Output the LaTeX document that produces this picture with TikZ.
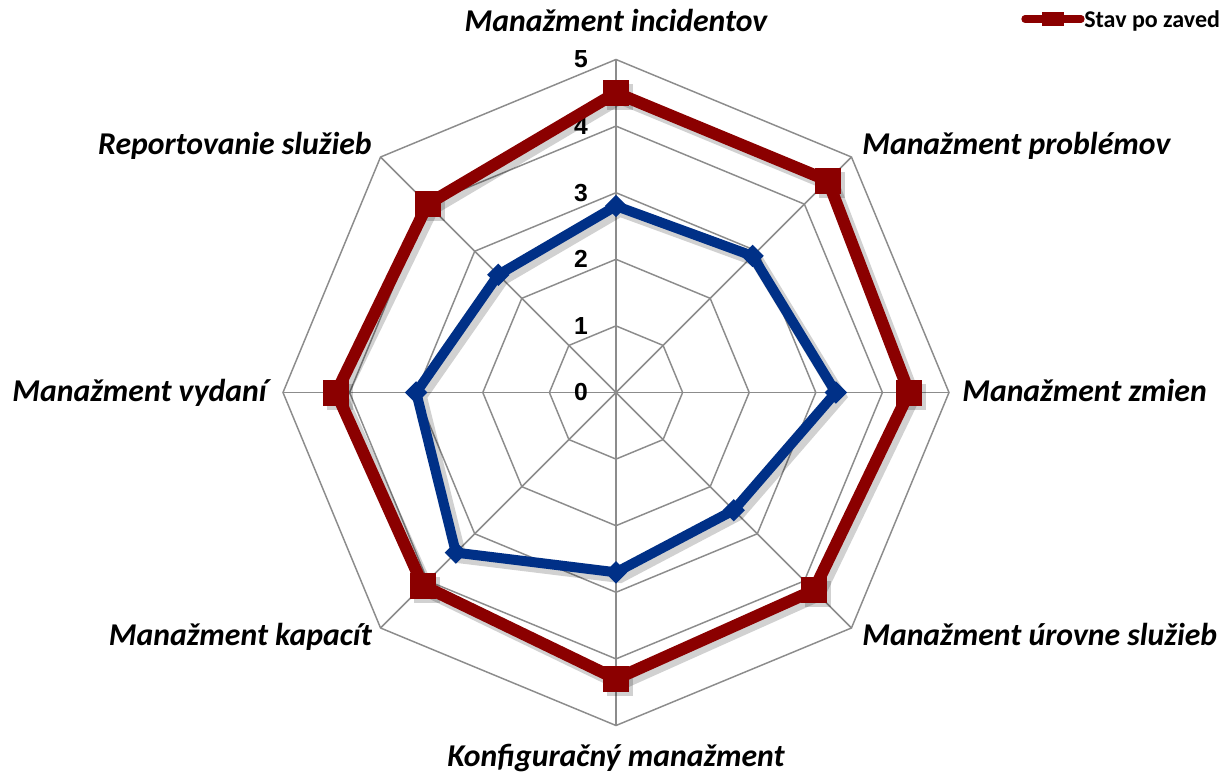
\documentclass[tikz,border=0pt]{standalone}
\usepackage{fontspec}
\setmainfont{Carlito}
\newfontfamily\numfont{Liberation Sans}
\usetikzlibrary{shapes.geometric,calc}
\definecolor{serred}{RGB}{139,0,0}
\definecolor{serblue}{RGB}{0,48,135}
\definecolor{gridgray}{RGB}{140,140,140}
\begin{document}
\begin{tikzpicture}[x=0.75pt,y=-0.75pt,
  gridline/.style={draw=gridgray,line width=1.1pt},
  redline/.style={draw=serred,line width=9pt,line join=miter},
  blueline/.style={draw=serblue,line width=7.5pt,line join=miter},
  shadowline/.style={draw=black,opacity=0.18,line width=10pt,line join=miter},
  redmark/.style={rectangle,fill=serred,minimum width=19.5pt,minimum height=19.5pt,inner sep=0pt},
  bluemark/.style={diamond,fill=serblue,minimum width=17pt,minimum height=17pt,inner sep=0pt},
  axlabel/.style={font=\fontsize{23.8}{26}\selectfont\bfseries\itshape,inner sep=0pt},
  numlabel/.style={font=\numfont\fontsize{18.5}{20}\selectfont\bfseries,inner sep=0pt,anchor=east}]
\useasboundingbox (0,0) rectangle (1222,774);
\fill[white] (0,0) rectangle (1222,774);
\coordinate (O) at (616,392.5);
% grid
\begin{scope}[shift={(616,392.5)}]
\foreach \r in {1,...,5}{
  \draw[gridline] (-90:\r*66.6) -- (-45:\r*66.6) -- (0:\r*66.6) -- (45:\r*66.6) -- (90:\r*66.6) -- (135:\r*66.6) -- (180:\r*66.6) -- (225:\r*66.6) -- cycle;
}
\foreach \a in {-90,-45,0,45,90,135,180,225}{
  \draw[gridline] (0,0) -- (\a:5*66.6);
}
% data coordinates
\foreach \v [count=\i from 0] in {4.5,4.5,4.4,4.2,4.3,4.1,4.2,4.0}{
  \coordinate (r\i) at (-90+45*\i:\v*66.6);
}
\foreach \v [count=\i from 0] in {2.8,2.9,3.3,2.5,2.7,3.4,3.0,2.5}{
  \coordinate (b\i) at (-90+45*\i:\v*66.6);
}
\end{scope}
% numbers
\foreach \n in {0,...,5}{
  \node[numlabel] (n\n) at (588,392.5-\n*66.6) {\n};
}
% shadows
\begin{scope}[transform canvas={xshift=3pt,yshift=-3pt}]
\draw[shadowline] (b0) -- (b1) -- (b2) -- (b3) -- (b4) -- (b5) -- (b6) -- (b7) -- cycle;
\draw[shadowline,line width=11pt] (r0) -- (r1) -- (r2) -- (r3) -- (r4) -- (r5) -- (r6) -- (r7) -- cycle;
\foreach \i in {0,...,7}{
  \fill[black,opacity=0.18] ($(r\i)+(-13,-13)$) rectangle ($(r\i)+(13,13)$);
}
\end{scope}
% series lines
\draw[blueline] (b0) -- (b1) -- (b2) -- (b3) -- (b4) -- (b5) -- (b6) -- (b7) -- cycle;
\draw[redline] (r0) -- (r1) -- (r2) -- (r3) -- (r4) -- (r5) -- (r6) -- (r7) -- cycle;
\foreach \i in {0,...,7}{
  \node[bluemark] (bm\i) at (b\i) {};
  \node[redmark] (rm\i) at (r\i) {};
}
% axis labels
\node[axlabel,anchor=base] (l0) at (616,31.7) {Manažment incidentov};
\node[axlabel,anchor=base west] (l1) at (862,155) {Manažment problémov};
\node[axlabel,anchor=base west] (l2) at (962,401) {Manažment zmien};
\node[axlabel,anchor=base west] (l3) at (862,645) {Manažment úrovne služieb};
\node[axlabel,anchor=base] (l4) at (616,766) {Konfiguračný manažment};
\node[axlabel,anchor=base east] (l5) at (372,645) {Manažment kapacít};
\node[axlabel,anchor=base east] (l6) at (267,401) {Manažment vydaní};
\node[axlabel,anchor=base east] (l7) at (372,155) {Reportovanie služieb};
% legend
\coordinate (lg1) at (1025,19);
\coordinate (lg2) at (1081,19);
\draw[draw=serred,line width=5.5pt,line cap=round] (lg1) -- (lg2);
\node[rectangle,fill=serred,minimum width=16pt,minimum height=11pt,inner sep=0pt] (lgm) at (1053,19) {};
\node[font=\fontsize{18}{20}\selectfont\bfseries,anchor=base west,inner sep=0pt] (lgt) at (1084,28) {Stav po zaved};
\end{tikzpicture}
\end{document}
